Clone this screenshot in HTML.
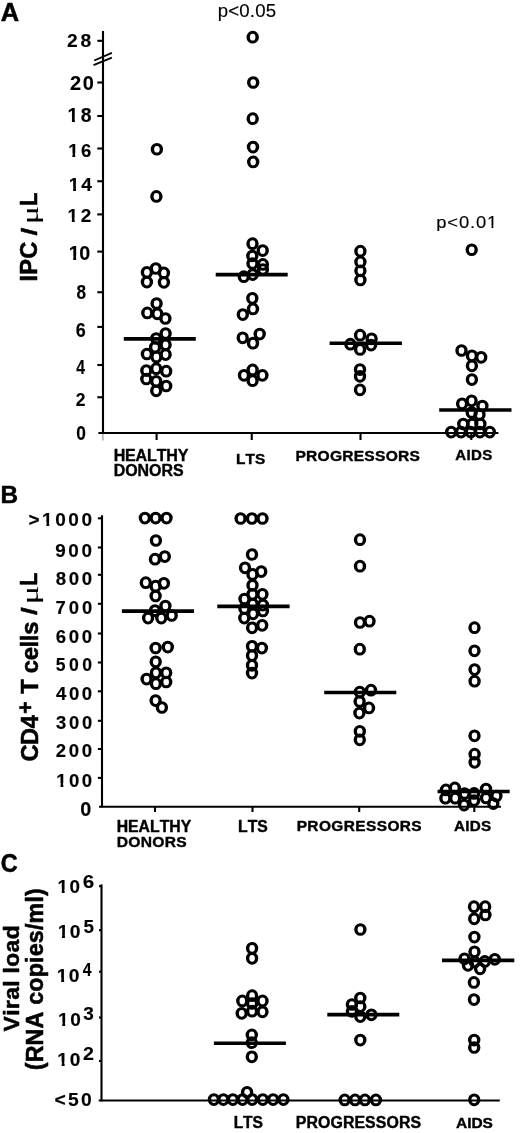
<!DOCTYPE html>
<html><head><meta charset="utf-8"><title>Figure</title>
<style>html,body{margin:0;padding:0;background:#fff;width:520px;height:1133px;overflow:hidden;font-family:"Liberation Sans",sans-serif}
svg{display:block;will-change:transform}</style></head>
<body><svg width="520" height="1133" viewBox="0 0 520 1133">
<defs><path id="o" fill-rule="evenodd" d="M-6.2,0a6.2,6.35 0 1,0 12.4,0a6.2,6.35 0 1,0 -12.4,0ZM-2.8,0a2.8,3.35 0 1,0 5.6,0a2.8,3.35 0 1,0 -5.6,0Z"/></defs>
<rect width="520" height="1133" fill="#fff"/>
<g stroke="#000" stroke-width="2.1" fill="none"><line x1="103.0" y1="31.0" x2="103.0" y2="433.8"/><line x1="98.4" y1="433.0" x2="498.4" y2="433.0"/><line x1="97.3" y1="40.8" x2="103.0" y2="40.8"/><line x1="97.3" y1="82.5" x2="103.0" y2="82.5"/><line x1="97.3" y1="116.0" x2="103.0" y2="116.0"/><line x1="97.3" y1="148.5" x2="103.0" y2="148.5"/><line x1="97.3" y1="181.25" x2="103.0" y2="181.25"/><line x1="97.3" y1="214.4" x2="103.0" y2="214.4"/><line x1="97.3" y1="251.6" x2="103.0" y2="251.6"/><line x1="97.3" y1="292.25" x2="103.0" y2="292.25"/><line x1="97.3" y1="326.9" x2="103.0" y2="326.9"/><line x1="97.3" y1="365.0" x2="103.0" y2="365.0"/><line x1="97.3" y1="397.25" x2="103.0" y2="397.25"/><line x1="156.6" y1="433.0" x2="156.6" y2="440.0"/><line x1="251.75" y1="433.0" x2="251.75" y2="440.0"/><line x1="360.5" y1="433.0" x2="360.5" y2="440.0"/><line x1="471.3" y1="433.0" x2="471.3" y2="440.0"/><line x1="102.0" y1="515.2" x2="102.0" y2="807.6"/><line x1="99.0" y1="806.7" x2="501.0" y2="806.7"/><line x1="97.9" y1="518.3" x2="102.0" y2="518.3"/><line x1="97.9" y1="547.5" x2="102.0" y2="547.5"/><line x1="97.9" y1="574.8" x2="102.0" y2="574.8"/><line x1="97.9" y1="603.8" x2="102.0" y2="603.8"/><line x1="97.9" y1="633.5" x2="102.0" y2="633.5"/><line x1="97.9" y1="662.5" x2="102.0" y2="662.5"/><line x1="97.9" y1="691.3" x2="102.0" y2="691.3"/><line x1="97.9" y1="720.8" x2="102.0" y2="720.8"/><line x1="97.9" y1="749.0" x2="102.0" y2="749.0"/><line x1="97.9" y1="777.9" x2="102.0" y2="777.9"/><line x1="155.0" y1="806.7" x2="155.0" y2="812.0"/><line x1="252.5" y1="806.7" x2="252.5" y2="812.0"/><line x1="359.2" y1="806.7" x2="359.2" y2="812.0"/><line x1="474.3" y1="806.7" x2="474.3" y2="812.0"/><line x1="101.5" y1="884.4" x2="101.5" y2="1101.4"/><line x1="98.7" y1="1100.5" x2="499.8" y2="1100.5"/><line x1="99.0" y1="886.2" x2="101.5" y2="886.2"/><line x1="99.0" y1="930.2" x2="101.5" y2="930.2"/><line x1="99.0" y1="971.7" x2="101.5" y2="971.7"/><line x1="99.0" y1="1017.5" x2="101.5" y2="1017.5"/><line x1="99.0" y1="1061.0" x2="101.5" y2="1061.0"/><line x1="102.9" y1="434" x2="102.9" y2="440.5" stroke="#b4b4b4" stroke-width="1.6"/><line x1="94.2" y1="60.5" x2="111.9" y2="52.8" stroke-width="1.8"/><line x1="93.5" y1="65.2" x2="111.9" y2="57.7" stroke-width="1.8"/><line x1="123.8" y1="338.9" x2="195.8" y2="338.9" stroke-width="3.6"/><line x1="215.7" y1="274.6" x2="287.7" y2="274.6" stroke-width="3.6"/><line x1="329.6" y1="343.2" x2="401.9" y2="343.2" stroke-width="3.6"/><line x1="439.2" y1="410.0" x2="511.5" y2="410.0" stroke-width="3.6"/><line x1="121.9" y1="611.1" x2="194.0" y2="611.1" stroke-width="3.6"/><line x1="217.3" y1="606.4" x2="289.6" y2="606.4" stroke-width="3.6"/><line x1="324.2" y1="692.5" x2="396.3" y2="692.5" stroke-width="3.6"/><line x1="437.6" y1="791.5" x2="509.7" y2="791.5" stroke-width="3.6"/><line x1="213.9" y1="1043.3" x2="285.9" y2="1043.3" stroke-width="3.6"/><line x1="327.3" y1="1014.6" x2="399.3" y2="1014.6" stroke-width="3.6"/><line x1="442.0" y1="960.4" x2="514.3" y2="960.4" stroke-width="3.6"/></g>
<g fill="#000"><use href="#o" x="156.9" y="149.25"/><use href="#o" x="156.4" y="196.4"/><use href="#o" x="155.8" y="268.5"/><use href="#o" x="146.9" y="272.3"/><use href="#o" x="163.9" y="272.9"/><use href="#o" x="146.9" y="282.1"/><use href="#o" x="163.9" y="282.3"/><use href="#o" x="156.6" y="303.5"/><use href="#o" x="147.3" y="312.9"/><use href="#o" x="157.3" y="313.8"/><use href="#o" x="165.4" y="318.5"/><use href="#o" x="165.6" y="333.5"/><use href="#o" x="156.2" y="338.5"/><use href="#o" x="165.6" y="344.8"/><use href="#o" x="155.1" y="347.3"/><use href="#o" x="146.9" y="354.0"/><use href="#o" x="156.4" y="356.9"/><use href="#o" x="165.6" y="354.6"/><use href="#o" x="156.2" y="368.65"/><use href="#o" x="146.3" y="370.6"/><use href="#o" x="166.2" y="371.2"/><use href="#o" x="146.3" y="379.0"/><use href="#o" x="156.2" y="381.3"/><use href="#o" x="166.2" y="386.0"/><use href="#o" x="156.2" y="390.8"/><use href="#o" x="252.7" y="37.2"/><use href="#o" x="253.2" y="82.5"/><use href="#o" x="252.7" y="118.7"/><use href="#o" x="253.0" y="147.1"/><use href="#o" x="253.2" y="161.9"/><use href="#o" x="252.5" y="243.65"/><use href="#o" x="262.7" y="250.6"/><use href="#o" x="252.3" y="256.0"/><use href="#o" x="252.5" y="263.5"/><use href="#o" x="262.9" y="264.4"/><use href="#o" x="262.9" y="269.6"/><use href="#o" x="252.7" y="274.6"/><use href="#o" x="243.8" y="276.7"/><use href="#o" x="252.3" y="298.3"/><use href="#o" x="253.0" y="308.9"/><use href="#o" x="242.8" y="314.6"/><use href="#o" x="259.7" y="334.1"/><use href="#o" x="242.7" y="337.8"/><use href="#o" x="253.0" y="343.2"/><use href="#o" x="252.6" y="369.9"/><use href="#o" x="244.0" y="375.3"/><use href="#o" x="262.4" y="375.3"/><use href="#o" x="252.6" y="380.7"/><use href="#o" x="360.4" y="251.15"/><use href="#o" x="360.4" y="261.9"/><use href="#o" x="360.4" y="270.8"/><use href="#o" x="360.4" y="280.0"/><use href="#o" x="360.1" y="335.2"/><use href="#o" x="350.4" y="344.2"/><use href="#o" x="360.1" y="349.4"/><use href="#o" x="371.6" y="338.8"/><use href="#o" x="371.1" y="345.1"/><use href="#o" x="360.0" y="369.6"/><use href="#o" x="360.0" y="376.3"/><use href="#o" x="360.0" y="389.8"/><use href="#o" x="471.7" y="249.75"/><use href="#o" x="461.5" y="350.5"/><use href="#o" x="471.9" y="355.8"/><use href="#o" x="481.2" y="357.3"/><use href="#o" x="471.9" y="365.8"/><use href="#o" x="471.9" y="379.6"/><use href="#o" x="462.1" y="403.8"/><use href="#o" x="471.6" y="400.8"/><use href="#o" x="482.4" y="406.0"/><use href="#o" x="471.7" y="412.5"/><use href="#o" x="479.5" y="414.5"/><use href="#o" x="463.3" y="424.0"/><use href="#o" x="472.3" y="424.0"/><use href="#o" x="480.4" y="424.0"/><use href="#o" x="451.2" y="432.1"/><use href="#o" x="461.0" y="432.1"/><use href="#o" x="470.8" y="432.1"/><use href="#o" x="480.0" y="432.1"/><use href="#o" x="489.8" y="432.1"/><use href="#o" x="144.9" y="518.1"/><use href="#o" x="155.6" y="518.1"/><use href="#o" x="166.5" y="518.1"/><use href="#o" x="155.9" y="540.5"/><use href="#o" x="164.8" y="556.6"/><use href="#o" x="155.0" y="559.2"/><use href="#o" x="145.8" y="582.7"/><use href="#o" x="155.6" y="586.2"/><use href="#o" x="163.9" y="583.3"/><use href="#o" x="155.6" y="596.0"/><use href="#o" x="165.4" y="606.0"/><use href="#o" x="155.0" y="610.6"/><use href="#o" x="148.1" y="618.1"/><use href="#o" x="161.3" y="618.1"/><use href="#o" x="171.7" y="615.5"/><use href="#o" x="155.6" y="648.0"/><use href="#o" x="167.8" y="647.1"/><use href="#o" x="155.7" y="661.8"/><use href="#o" x="155.9" y="672.8"/><use href="#o" x="166.2" y="672.8"/><use href="#o" x="146.6" y="679.1"/><use href="#o" x="155.9" y="683.7"/><use href="#o" x="166.2" y="682.0"/><use href="#o" x="155.6" y="700.6"/><use href="#o" x="161.9" y="707.5"/><use href="#o" x="240.6" y="518.5"/><use href="#o" x="251.9" y="518.5"/><use href="#o" x="262.5" y="518.5"/><use href="#o" x="252.0" y="554.5"/><use href="#o" x="245.0" y="567.8"/><use href="#o" x="261.25" y="571.6"/><use href="#o" x="252.5" y="574.4"/><use href="#o" x="252.5" y="585.3"/><use href="#o" x="262.4" y="594.3"/><use href="#o" x="252.5" y="594.3"/><use href="#o" x="244.5" y="599.1"/><use href="#o" x="252.7" y="604.0"/><use href="#o" x="262.9" y="605.1"/><use href="#o" x="244.4" y="608.6"/><use href="#o" x="262.9" y="611.0"/><use href="#o" x="253.1" y="613.8"/><use href="#o" x="244.3" y="618.1"/><use href="#o" x="252.1" y="627.8"/><use href="#o" x="262.2" y="625.3"/><use href="#o" x="252.0" y="646.25"/><use href="#o" x="261.9" y="648.1"/><use href="#o" x="252.0" y="655.6"/><use href="#o" x="252.0" y="665.3"/><use href="#o" x="252.0" y="673.1"/><use href="#o" x="360.0" y="539.7"/><use href="#o" x="360.0" y="566.2"/><use href="#o" x="360.0" y="622.5"/><use href="#o" x="369.5" y="621.2"/><use href="#o" x="359.8" y="649.2"/><use href="#o" x="359.8" y="692.1"/><use href="#o" x="371.0" y="690.2"/><use href="#o" x="359.6" y="701.5"/><use href="#o" x="369.0" y="707.9"/><use href="#o" x="359.4" y="713.1"/><use href="#o" x="359.8" y="731.3"/><use href="#o" x="359.8" y="739.8"/><use href="#o" x="474.5" y="627.7"/><use href="#o" x="474.5" y="650.8"/><use href="#o" x="474.6" y="669.6"/><use href="#o" x="474.6" y="681.2"/><use href="#o" x="474.5" y="735.8"/><use href="#o" x="474.6" y="754.2"/><use href="#o" x="474.6" y="762.3"/><use href="#o" x="445.9" y="789.9"/><use href="#o" x="445.4" y="798.2"/><use href="#o" x="454.8" y="787.9"/><use href="#o" x="455.2" y="798.2"/><use href="#o" x="464.6" y="793.5"/><use href="#o" x="464.1" y="805.1"/><use href="#o" x="474.1" y="793.4"/><use href="#o" x="474.1" y="800.5"/><use href="#o" x="486.0" y="789.0"/><use href="#o" x="486.0" y="798.0"/><use href="#o" x="496.4" y="796.1"/><use href="#o" x="493.3" y="803.6"/><use href="#o" x="252.1" y="948.3"/><use href="#o" x="252.1" y="958.3"/><use href="#o" x="252.1" y="995.7"/><use href="#o" x="242.3" y="1000.9"/><use href="#o" x="262.5" y="1000.9"/><use href="#o" x="252.1" y="1003.5"/><use href="#o" x="241.7" y="1013.3"/><use href="#o" x="252.1" y="1011.2"/><use href="#o" x="262.5" y="1011.8"/><use href="#o" x="251.8" y="1034.9"/><use href="#o" x="251.8" y="1042.7"/><use href="#o" x="251.8" y="1056.8"/><use href="#o" x="213.9" y="1099.6"/><use href="#o" x="223.4" y="1099.6"/><use href="#o" x="232.9" y="1099.6"/><use href="#o" x="242.6" y="1099.6"/><use href="#o" x="252.2" y="1099.6"/><use href="#o" x="262.8" y="1099.6"/><use href="#o" x="273.1" y="1099.6"/><use href="#o" x="283.4" y="1099.6"/><use href="#o" x="247.1" y="1092.3"/><use href="#o" x="360.4" y="929.5"/><use href="#o" x="360.3" y="998.0"/><use href="#o" x="351.9" y="1004.5"/><use href="#o" x="360.3" y="1006.6"/><use href="#o" x="351.9" y="1011.4"/><use href="#o" x="360.3" y="1016.6"/><use href="#o" x="371.4" y="1014.8"/><use href="#o" x="360.3" y="1040.1"/><use href="#o" x="344.7" y="1099.9"/><use href="#o" x="355.1" y="1099.9"/><use href="#o" x="364.9" y="1099.9"/><use href="#o" x="375.9" y="1099.9"/><use href="#o" x="474.0" y="906.7"/><use href="#o" x="485.2" y="906.7"/><use href="#o" x="474.2" y="918.8"/><use href="#o" x="485.4" y="915.0"/><use href="#o" x="474.4" y="937.1"/><use href="#o" x="474.5" y="951.8"/><use href="#o" x="464.5" y="958.8"/><use href="#o" x="468.0" y="965.3"/><use href="#o" x="474.7" y="961.9"/><use href="#o" x="480.1" y="968.8"/><use href="#o" x="484.8" y="961.4"/><use href="#o" x="494.8" y="959.3"/><use href="#o" x="473.9" y="982.4"/><use href="#o" x="474.0" y="999.6"/><use href="#o" x="474.2" y="1040.1"/><use href="#o" x="474.2" y="1047.5"/><use href="#o" x="474.2" y="1099.8"/></g>
<g fill="#000" stroke="#000" stroke-linejoin="round"><text transform="translate(0.815,20.550) scale(0.254882,0.252911)" x="0.0" y="0" font-family="Liberation Sans" font-weight="bold" font-size="100" stroke-width="1.969">A</text><text transform="translate(217.874,16.945) scale(0.186361,0.184320)" x="0.0 56.3 115.3 171.6 200.1 256.3" y="0" font-family="Liberation Sans" font-weight="normal" font-size="100" stroke-width="0.809">p&lt;0.05</text><text transform="translate(436.290,228.359) scale(0.183899,0.170196)" x="0.0 60.1 123.0 183.2 215.5 275.6" y="0" font-family="Liberation Sans" font-weight="normal" font-size="100" stroke-width="0.848">p&lt;0.01</text><rect transform="translate(436.290,228.359) scale(0.183899,0.170196)" x="276.8" y="-15.38" width="23.23" height="20.82" fill="#fff" stroke="none"/><rect transform="translate(436.290,228.359) scale(0.183899,0.170196)" x="310.3" y="-15.38" width="19.95" height="20.82" fill="#fff" stroke="none"/><text transform="translate(66.907,46.937) scale(0.192794,0.192794)" x="0.0 70.0" y="0" font-family="Liberation Sans" font-weight="bold" font-size="100" stroke-width="0.778">28</text><text transform="translate(69.882,89.730) scale(0.199857,0.199857)" x="0.0 64.3" y="0" font-family="Liberation Sans" font-weight="bold" font-size="100" stroke-width="0.751">20</text><text transform="translate(67.547,122.435) scale(0.194207,0.194207)" x="0.0 67.8" y="0" font-family="Liberation Sans" font-weight="bold" font-size="100" stroke-width="0.772">18</text><rect transform="translate(67.547,122.435) scale(0.194207,0.194207)" x="-0.1" y="-20.80" width="22.74" height="26.18" fill="#fff" stroke="none"/><rect transform="translate(67.547,122.435) scale(0.194207,0.194207)" x="37.7" y="-20.80" width="18.97" height="26.18" fill="#fff" stroke="none"/><text transform="translate(68.210,156.994) scale(0.185026,0.185026)" x="0.0 68.6" y="0" font-family="Liberation Sans" font-weight="bold" font-size="100" stroke-width="0.811">16</text><rect transform="translate(68.210,156.994) scale(0.185026,0.185026)" x="-0.1" y="-20.82" width="22.74" height="26.22" fill="#fff" stroke="none"/><rect transform="translate(68.210,156.994) scale(0.185026,0.185026)" x="37.8" y="-20.82" width="18.97" height="26.22" fill="#fff" stroke="none"/><text transform="translate(68.763,190.525) scale(0.191864,0.191864)" x="0.0 65.1" y="0" font-family="Liberation Sans" font-weight="bold" font-size="100" stroke-width="0.782">14</text><rect transform="translate(68.763,190.525) scale(0.191864,0.191864)" x="-0.1" y="-20.80" width="22.74" height="26.19" fill="#fff" stroke="none"/><rect transform="translate(68.763,190.525) scale(0.191864,0.191864)" x="37.8" y="-20.80" width="18.97" height="26.19" fill="#fff" stroke="none"/><text transform="translate(67.528,221.825) scale(0.189762,0.189762)" x="0.0 69.6" y="0" font-family="Liberation Sans" font-weight="bold" font-size="100" stroke-width="0.790">12</text><rect transform="translate(67.528,221.825) scale(0.189762,0.189762)" x="-0.1" y="-20.81" width="22.74" height="26.20" fill="#fff" stroke="none"/><rect transform="translate(67.528,221.825) scale(0.189762,0.189762)" x="37.8" y="-20.81" width="18.97" height="26.20" fill="#fff" stroke="none"/><text transform="translate(68.728,260.133) scale(0.197032,0.197032)" x="0.0 54.0" y="0" font-family="Liberation Sans" font-weight="bold" font-size="100" stroke-width="0.761">10</text><rect transform="translate(68.728,260.133) scale(0.197032,0.197032)" x="-0.1" y="-20.79" width="22.74" height="26.17" fill="#fff" stroke="none"/><rect transform="translate(68.728,260.133) scale(0.197032,0.197032)" x="37.7" y="-20.79" width="18.97" height="26.17" fill="#fff" stroke="none"/><text transform="translate(76.432,299.135) scale(0.171173,0.194207)" x="0.0" y="0" font-family="Liberation Sans" font-weight="bold" font-size="100" stroke-width="0.823">8</text><text transform="translate(75.820,336.530) scale(0.178941,0.199857)" x="0.0" y="0" font-family="Liberation Sans" font-weight="bold" font-size="100" stroke-width="0.793">6</text><text transform="translate(76.236,374.425) scale(0.157754,0.198405)" x="0.0" y="0" font-family="Liberation Sans" font-weight="bold" font-size="100" stroke-width="0.848">4</text><text transform="translate(75.867,405.925) scale(0.175513,0.189762)" x="0.0" y="0" font-family="Liberation Sans" font-weight="bold" font-size="100" stroke-width="0.822">2</text><text transform="translate(76.289,440.224) scale(0.173470,0.205506)" x="0.0" y="0" font-family="Liberation Sans" font-weight="bold" font-size="100" stroke-width="0.794">0</text><text transform="translate(37.395,281.408) rotate(-90) scale(0.236638,0.235167)" x="0.0 28.3 95.5" y="0" font-family="Liberation Sans" font-weight="bold" font-size="100" stroke-width="2.331">IPC</text><text transform="translate(37.477,235.395) rotate(-90) scale(0.276809,0.223601)" x="0.0" y="0" font-family="Liberation Sans" font-weight="bold" font-size="100" stroke-width="2.211">/</text><text transform="translate(37.741,224.256) rotate(-90) scale(0.336906,0.223675)" x="0.0" y="0" font-family="Liberation Serif" font-weight="normal" font-size="100" stroke-width="0.546">μ</text><text transform="translate(37.225,205.991) rotate(-90) scale(0.219220,0.240556)" x="0.0" y="0" font-family="Liberation Sans" font-weight="bold" font-size="100" stroke-width="2.395">L</text><text transform="translate(113.626,460.700) scale(0.160599,0.162793)" x="0.0 71.2 136.8 208.0 268.0 328.1 399.3" y="0" font-family="Liberation Sans" font-weight="bold" font-size="100" stroke-width="2.474">HEALTHY</text><text transform="translate(113.633,476.244) scale(0.159531,0.159603)" x="0.0 72.2 149.9 222.1 299.8 372.0" y="0" font-family="Liberation Sans" font-weight="bold" font-size="100" stroke-width="2.507">DONORS</text><text transform="translate(236.070,464.050) scale(0.153966,0.153953)" x="0.0 61.1 122.2" y="0" font-family="Liberation Sans" font-weight="bold" font-size="100" stroke-width="2.598">LTS</text><text transform="translate(295.406,460.900) scale(0.156071,0.153247)" x="0.0 68.1 141.8 221.0 300.2 373.8 441.9 510.1 578.2 657.4 731.0" y="0" font-family="Liberation Sans" font-weight="bold" font-size="100" stroke-width="2.586">PROGRESSORS</text><text transform="translate(455.325,460.407) scale(0.150652,0.146185)" x="0.0 74.6 104.7 179.3" y="0" font-family="Liberation Sans" font-weight="bold" font-size="100" stroke-width="2.695">AIDS</text><text transform="translate(0.521,502.850) scale(0.243497,0.247097)" x="0.0" y="0" font-family="Liberation Sans" font-weight="bold" font-size="100" stroke-width="2.038">B</text><text transform="translate(28.477,526.139) scale(0.189970,0.189970)" x="0.0 71.8 140.8 209.8 278.8" y="0" font-family="Liberation Sans" font-weight="bold" font-size="100" stroke-width="0.790">&gt;1000</text><rect transform="translate(28.477,526.139) scale(0.189970,0.189970)" x="71.7" y="-20.80" width="22.74" height="26.20" fill="#fff" stroke="none"/><rect transform="translate(28.477,526.139) scale(0.189970,0.189970)" x="109.5" y="-20.80" width="18.97" height="26.20" fill="#fff" stroke="none"/><text transform="translate(55.221,556.941) scale(0.188557,0.188557)" x="0.0 69.7 139.4" y="0" font-family="Liberation Sans" font-weight="bold" font-size="100" stroke-width="0.796">900</text><text transform="translate(55.786,584.944) scale(0.185732,0.185732)" x="0.0 70.2 140.4" y="0" font-family="Liberation Sans" font-weight="bold" font-size="100" stroke-width="0.808">800</text><text transform="translate(55.583,613.945) scale(0.184320,0.184320)" x="0.0 71.5 142.9" y="0" font-family="Liberation Sans" font-weight="bold" font-size="100" stroke-width="0.814">700</text><text transform="translate(55.695,643.444) scale(0.185732,0.185732)" x="0.0 70.4 140.9" y="0" font-family="Liberation Sans" font-weight="bold" font-size="100" stroke-width="0.808">600</text><text transform="translate(55.834,671.053) scale(0.175846,0.175846)" x="0.0 75.4 150.9" y="0" font-family="Liberation Sans" font-weight="bold" font-size="100" stroke-width="0.853">500</text><text transform="translate(56.094,700.344) scale(0.185732,0.185732)" x="0.0 69.4 138.7" y="0" font-family="Liberation Sans" font-weight="bold" font-size="100" stroke-width="0.808">400</text><text transform="translate(55.953,728.518) scale(0.183939,0.183939)" x="0.0 70.7 141.3" y="0" font-family="Liberation Sans" font-weight="bold" font-size="100" stroke-width="0.815">300</text><text transform="translate(55.731,757.444) scale(0.185732,0.185732)" x="0.0 70.3 140.7" y="0" font-family="Liberation Sans" font-weight="bold" font-size="100" stroke-width="0.808">200</text><text transform="translate(56.305,786.844) scale(0.185732,0.185732)" x="0.0 68.8 137.6" y="0" font-family="Liberation Sans" font-weight="bold" font-size="100" stroke-width="0.808">100</text><rect transform="translate(56.305,786.844) scale(0.185732,0.185732)" x="-0.1" y="-20.81" width="22.74" height="26.22" fill="#fff" stroke="none"/><rect transform="translate(56.305,786.844) scale(0.185732,0.185732)" x="37.8" y="-20.81" width="18.97" height="26.22" fill="#fff" stroke="none"/><text transform="translate(80.189,815.928) scale(0.198702,0.201269)" x="0.0" y="0" font-family="Liberation Sans" font-weight="bold" font-size="100" stroke-width="0.750">0</text><text transform="translate(37.588,761.496) rotate(-90) scale(0.236837,0.242229)" x="0.0 70.0 140.1" y="0" font-family="Liberation Sans" font-weight="bold" font-size="100" stroke-width="2.296">CD4</text><text transform="translate(33.382,713.717) rotate(-90) scale(0.212378,0.223508)" x="0.0" y="0" font-family="Liberation Sans" font-weight="bold" font-size="100" stroke-width="2.524">+</text><text transform="translate(37.825,693.792) rotate(-90) scale(0.237571,0.243463)" x="0.0 59.8 86.4 140.8 195.2 221.7 248.3" y="0" font-family="Liberation Sans" font-weight="bold" font-size="100" stroke-width="2.287">T cells</text><text transform="translate(37.477,615.095) rotate(-90) scale(0.276809,0.223601)" x="0.0" y="0" font-family="Liberation Sans" font-weight="bold" font-size="100" stroke-width="2.211">/</text><text transform="translate(37.741,604.315) rotate(-90) scale(0.344151,0.223675)" x="0.0" y="0" font-family="Liberation Serif" font-weight="normal" font-size="100" stroke-width="0.541">μ</text><text transform="translate(37.225,585.652) rotate(-90) scale(0.213374,0.240556)" x="0.0" y="0" font-family="Liberation Sans" font-weight="bold" font-size="100" stroke-width="2.428">L</text><text transform="translate(116.644,831.800) scale(0.157908,0.157706)" x="0.0 72.3 139.1 211.4 272.6 333.8 406.1" y="0" font-family="Liberation Sans" font-weight="bold" font-size="100" stroke-width="2.535">HEALTHY</text><text transform="translate(116.654,847.150) scale(0.156380,0.153247)" x="0.0 74.0 153.5 227.5 307.0 381.0" y="0" font-family="Liberation Sans" font-weight="bold" font-size="100" stroke-width="2.584">DONORS</text><text transform="translate(237.894,831.647) scale(0.157899,0.156778)" x="0.0 61.7 123.4" y="0" font-family="Liberation Sans" font-weight="bold" font-size="100" stroke-width="2.542">LTS</text><text transform="translate(296.666,831.154) scale(0.154607,0.149716)" x="0.0 69.2 144.0 224.3 304.6 379.3 448.5 517.8 587.0 667.3 742.0" y="0" font-family="Liberation Sans" font-weight="bold" font-size="100" stroke-width="2.629">PROGRESSORS</text><text transform="translate(454.020,831.154) scale(0.152672,0.149716)" x="0.0 73.7 103.1 176.8" y="0" font-family="Liberation Sans" font-weight="bold" font-size="100" stroke-width="2.646">AIDS</text><text transform="translate(0.790,872.196) scale(0.234013,0.259884)" x="0.0" y="0" font-family="Liberation Sans" font-weight="bold" font-size="100" stroke-width="2.027">C</text><text transform="translate(57.486,893.441) scale(0.188557,0.188557)" x="0.0 64.3" y="0" font-family="Liberation Sans" font-weight="bold" font-size="100" stroke-width="0.796">10</text><rect transform="translate(57.486,893.441) scale(0.188557,0.188557)" x="-0.1" y="-20.81" width="22.74" height="26.21" fill="#fff" stroke="none"/><rect transform="translate(57.486,893.441) scale(0.188557,0.188557)" x="37.8" y="-20.81" width="18.97" height="26.21" fill="#fff" stroke="none"/><text transform="translate(82.821,888.244) scale(0.205834,0.185732)" x="0.0" y="0" font-family="Liberation Sans" font-weight="bold" font-size="100" stroke-width="0.767">6</text><text transform="translate(57.657,937.837) scale(0.192794,0.192794)" x="0.0 62.4" y="0" font-family="Liberation Sans" font-weight="bold" font-size="100" stroke-width="0.778">10</text><rect transform="translate(57.657,937.837) scale(0.192794,0.192794)" x="-0.1" y="-20.80" width="22.74" height="26.19" fill="#fff" stroke="none"/><rect transform="translate(57.657,937.837) scale(0.192794,0.192794)" x="37.7" y="-20.80" width="18.97" height="26.19" fill="#fff" stroke="none"/><text transform="translate(83.497,932.637) scale(0.187918,0.192761)" x="0.0" y="0" font-family="Liberation Sans" font-weight="bold" font-size="100" stroke-width="0.788">5</text><text transform="translate(56.857,982.037) scale(0.192794,0.192794)" x="0.0 61.9" y="0" font-family="Liberation Sans" font-weight="bold" font-size="100" stroke-width="0.778">10</text><rect transform="translate(56.857,982.037) scale(0.192794,0.192794)" x="-0.1" y="-20.80" width="22.74" height="26.19" fill="#fff" stroke="none"/><rect transform="translate(56.857,982.037) scale(0.192794,0.192794)" x="37.7" y="-20.80" width="18.97" height="26.19" fill="#fff" stroke="none"/><text transform="translate(82.736,976.425) scale(0.157754,0.189683)" x="0.0" y="0" font-family="Liberation Sans" font-weight="bold" font-size="100" stroke-width="0.867">4</text><text transform="translate(57.976,1025.639) scale(0.189970,0.189970)" x="0.0 64.0" y="0" font-family="Liberation Sans" font-weight="bold" font-size="100" stroke-width="0.790">10</text><rect transform="translate(57.976,1025.639) scale(0.189970,0.189970)" x="-0.1" y="-20.80" width="22.74" height="26.20" fill="#fff" stroke="none"/><rect transform="translate(57.976,1025.639) scale(0.189970,0.189970)" x="37.8" y="-20.80" width="18.97" height="26.20" fill="#fff" stroke="none"/><text transform="translate(83.339,1020.314) scale(0.190114,0.188168)" x="0.0" y="0" font-family="Liberation Sans" font-weight="bold" font-size="100" stroke-width="0.793">3</text><text transform="translate(57.367,1065.538) scale(0.191382,0.191382)" x="0.0 64.8" y="0" font-family="Liberation Sans" font-weight="bold" font-size="100" stroke-width="0.784">10</text><rect transform="translate(57.367,1065.538) scale(0.191382,0.191382)" x="-0.1" y="-20.80" width="22.74" height="26.19" fill="#fff" stroke="none"/><rect transform="translate(57.367,1065.538) scale(0.191382,0.191382)" x="37.8" y="-20.80" width="18.97" height="26.19" fill="#fff" stroke="none"/><text transform="translate(82.895,1060.025) scale(0.196284,0.192627)" x="0.0" y="0" font-family="Liberation Sans" font-weight="bold" font-size="100" stroke-width="0.771">2</text><text transform="translate(54.465,1106.037) scale(0.192794,0.192794)" x="0.0 70.2 137.6" y="0" font-family="Liberation Sans" font-weight="bold" font-size="100" stroke-width="0.778">&lt;50</text><text transform="translate(19.109,1031.381) rotate(-90) scale(0.228336,0.221277)" x="0.0 68.3 97.6 138.1 195.3 224.6 254.0 283.4 346.0 403.2" y="0" font-family="Liberation Sans" font-weight="bold" font-size="100" stroke-width="2.447">Viral load</text><text transform="translate(43.125,1070.286) rotate(-90) scale(0.233132,0.230382)" x="0.0 34.0 106.8 179.7 252.6 281.0 337.2 399.0 460.7 489.2 545.4 601.7 630.1 719.7 748.1" y="0" font-family="Liberation Sans" font-weight="bold" font-size="100" stroke-width="2.373">(RNA copies/ml)</text><text transform="translate(233.653,1128.246) scale(0.156496,0.158190)" x="0.0 60.1 120.3" y="0" font-family="Liberation Sans" font-weight="bold" font-size="100" stroke-width="2.542">LTS</text><text transform="translate(295.836,1128.346) scale(0.158987,0.158190)" x="0.0 67.1 139.7 217.9 296.0 368.6 435.7 502.8 569.9 648.1 720.7" y="0" font-family="Liberation Sans" font-weight="bold" font-size="100" stroke-width="2.522">PROGRESSORS</text><text transform="translate(456.014,1128.448) scale(0.154880,0.155366)" x="0.0 72.0 99.5 171.5" y="0" font-family="Liberation Sans" font-weight="bold" font-size="100" stroke-width="2.579">AIDS</text></g>
</svg></body></html>
